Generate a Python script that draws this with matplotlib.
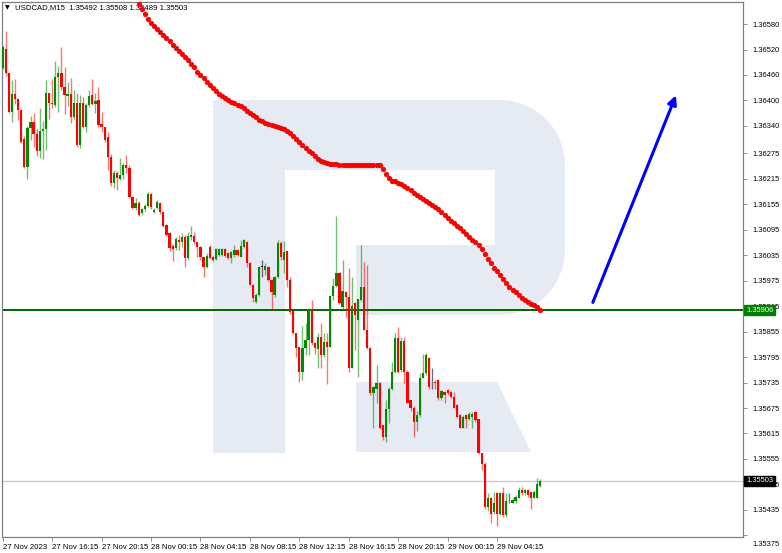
import matplotlib
matplotlib.use("Agg")
import matplotlib.pyplot as plt
from matplotlib.patches import Polygon, Rectangle
from matplotlib.transforms import ScaledTranslation
import numpy as np

# USDCAD M15 candles, 27 Nov 12:15 .. 29 Nov 07:45 (175 bars)
opens = [
    1.36476, 1.36521, 1.36465, 1.36373, 1.36415, 1.36403, 1.36377, 1.36309, 1.36243, 1.36335,
    1.36349, 1.36321, 1.36281, 1.36328, 1.36333, 1.36418, 1.36394, 1.36389, 1.36455, 1.36465,
    1.36432, 1.36410, 1.36415, 1.36361, 1.36394, 1.36295, 1.36394, 1.36337, 1.36389, 1.36413,
    1.36392, 1.36401, 1.36344, 1.36337, 1.36314, 1.36266, 1.36205, 1.36229, 1.36215, 1.36224,
    1.36248, 1.36241, 1.36172, 1.36146, 1.36158, 1.36134, 1.36144, 1.36151, 1.36179, 1.36137,
    1.36146, 1.36158, 1.36137, 1.36106, 1.36087, 1.36056, 1.36052, 1.36071, 1.36066, 1.36078,
    1.36028, 1.36078, 1.36080, 1.36066, 1.36054, 1.36030, 1.36007, 1.36054, 1.36030, 1.36026,
    1.36035, 1.36035, 1.36049, 1.36040, 1.36028, 1.36035, 1.36047, 1.36030, 1.36054, 1.36066,
    1.36016, 1.35964, 1.35924, 1.35941, 1.36007, 1.36000, 1.36007, 1.35976, 1.35941, 1.35983,
    1.36064, 1.36023, 1.36045, 1.35976, 1.35903, 1.35851, 1.35818, 1.35761, 1.35816, 1.35835,
    1.35908, 1.35828, 1.35813, 1.35842, 1.35799, 1.35830, 1.35820, 1.35938, 1.35962, 1.35993,
    1.35912, 1.35948, 1.35936, 1.35769, 1.35922, 1.35882, 1.35929, 1.35960, 1.35858, 1.35816,
    1.35710, 1.35721, 1.35733, 1.35634, 1.35606, 1.35672, 1.35719, 1.35759, 1.35839, 1.35764,
    1.35832, 1.35761, 1.35693, 1.35676, 1.35641, 1.35658, 1.35745, 1.35757, 1.35792, 1.35733,
    1.35736, 1.35740, 1.35698, 1.35712, 1.35717, 1.35712, 1.35702, 1.35681, 1.35658, 1.35629,
    1.35658, 1.35650, 1.35655, 1.35665, 1.35648, 1.35568, 1.35544, 1.35441, 1.35464, 1.35429,
    1.35474, 1.35426, 1.35474, 1.35422, 1.35455, 1.35452, 1.35457, 1.35464, 1.35481, 1.35474,
    1.35481, 1.35476, 1.35464, 1.35464, 1.35492,
]
highs = [
    1.36528, 1.36564, 1.36465, 1.36448, 1.36451, 1.36406, 1.36380, 1.36316, 1.36340, 1.36363,
    1.36370, 1.36333, 1.36382, 1.36351, 1.36448, 1.36418, 1.36451, 1.36493, 1.36481, 1.36526,
    1.36479, 1.36443, 1.36453, 1.36425, 1.36418, 1.36413, 1.36408, 1.36394, 1.36425, 1.36451,
    1.36418, 1.36432, 1.36373, 1.36337, 1.36325, 1.36274, 1.36236, 1.36233, 1.36264, 1.36252,
    1.36271, 1.36248, 1.36174, 1.36170, 1.36163, 1.36146, 1.36156, 1.36184, 1.36182, 1.36146,
    1.36165, 1.36160, 1.36139, 1.36108, 1.36090, 1.36061, 1.36078, 1.36082, 1.36087, 1.36082,
    1.36090, 1.36104, 1.36090, 1.36066, 1.36056, 1.36030, 1.36040, 1.36059, 1.36033, 1.36052,
    1.36052, 1.36052, 1.36052, 1.36042, 1.36045, 1.36059, 1.36049, 1.36071, 1.36073, 1.36068,
    1.36019, 1.35967, 1.35946, 1.36009, 1.36023, 1.36016, 1.36009, 1.35979, 1.35986, 1.36071,
    1.36068, 1.36068, 1.36045, 1.35983, 1.35905, 1.35853, 1.35820, 1.35868, 1.35875, 1.35910,
    1.35929, 1.35830, 1.35851, 1.35875, 1.35851, 1.35851, 1.35941, 1.35981, 1.36127, 1.35995,
    1.36023, 1.35950, 1.36005, 1.35983, 1.35924, 1.35931, 1.36059, 1.36019, 1.36012, 1.35818,
    1.35726, 1.35776, 1.35736, 1.35636, 1.35693, 1.35724, 1.35783, 1.35851, 1.35865, 1.35842,
    1.35842, 1.35764, 1.35695, 1.35679, 1.35669, 1.35757, 1.35802, 1.35804, 1.35795, 1.35769,
    1.35740, 1.35743, 1.35717, 1.35714, 1.35721, 1.35714, 1.35712, 1.35684, 1.35660, 1.35658,
    1.35660, 1.35665, 1.35665, 1.35667, 1.35650, 1.35570, 1.35547, 1.35474, 1.35466, 1.35476,
    1.35476, 1.35478, 1.35490, 1.35474, 1.35474, 1.35464, 1.35469, 1.35490, 1.35488, 1.35485,
    1.35483, 1.35478, 1.35481, 1.35509, 1.35508,
]
lows = [
    1.36474, 1.36458, 1.36370, 1.36349, 1.36392, 1.36354, 1.36300, 1.36241, 1.36215, 1.36307,
    1.36290, 1.36269, 1.36264, 1.36262, 1.36283, 1.36356, 1.36382, 1.36384, 1.36373, 1.36425,
    1.36368, 1.36387, 1.36347, 1.36354, 1.36290, 1.36288, 1.36335, 1.36325, 1.36384, 1.36389,
    1.36370, 1.36337, 1.36325, 1.36302, 1.36236, 1.36198, 1.36193, 1.36189, 1.36212, 1.36215,
    1.36229, 1.36170, 1.36144, 1.36141, 1.36127, 1.36130, 1.36139, 1.36148, 1.36144, 1.36134,
    1.36144, 1.36132, 1.36101, 1.36080, 1.36045, 1.36021, 1.36047, 1.36047, 1.36054, 1.36007,
    1.36023, 1.36071, 1.36061, 1.36030, 1.36023, 1.35983, 1.36005, 1.36026, 1.36021, 1.36023,
    1.36033, 1.36033, 1.36030, 1.36026, 1.36016, 1.36030, 1.36033, 1.36030, 1.36052, 1.36007,
    1.35964, 1.35924, 1.35922, 1.35938, 1.35983, 1.35988, 1.35974, 1.35905, 1.35936, 1.35981,
    1.36023, 1.35993, 1.35960, 1.35896, 1.35849, 1.35795, 1.35736, 1.35740, 1.35799, 1.35799,
    1.35823, 1.35802, 1.35769, 1.35769, 1.35795, 1.35731, 1.35818, 1.35929, 1.35960, 1.35920,
    1.35905, 1.35889, 1.35759, 1.35769, 1.35811, 1.35747, 1.35927, 1.35858, 1.35813, 1.35705,
    1.35629, 1.35688, 1.35625, 1.35599, 1.35594, 1.35639, 1.35717, 1.35757, 1.35757, 1.35759,
    1.35733, 1.35688, 1.35669, 1.35606, 1.35622, 1.35653, 1.35745, 1.35752, 1.35721, 1.35721,
    1.35721, 1.35693, 1.35693, 1.35686, 1.35705, 1.35698, 1.35674, 1.35653, 1.35627, 1.35627,
    1.35629, 1.35646, 1.35627, 1.35643, 1.35566, 1.35528, 1.35438, 1.35433, 1.35405, 1.35426,
    1.35398, 1.35422, 1.35417, 1.35417, 1.35450, 1.35450, 1.35452, 1.35462, 1.35469, 1.35471,
    1.35466, 1.35438, 1.35462, 1.35462, 1.35489,
]
closes = [
    1.36526, 1.36465, 1.36373, 1.36415, 1.36403, 1.36377, 1.36302, 1.36243, 1.36335, 1.36349,
    1.36321, 1.36281, 1.36328, 1.36333, 1.36418, 1.36394, 1.36392, 1.36455, 1.36465, 1.36432,
    1.36413, 1.36415, 1.36361, 1.36394, 1.36295, 1.36394, 1.36337, 1.36389, 1.36410, 1.36392,
    1.36399, 1.36342, 1.36337, 1.36307, 1.36266, 1.36205, 1.36229, 1.36217, 1.36224, 1.36248,
    1.36241, 1.36172, 1.36146, 1.36158, 1.36130, 1.36144, 1.36151, 1.36179, 1.36148, 1.36141,
    1.36160, 1.36137, 1.36104, 1.36082, 1.36052, 1.36049, 1.36073, 1.36066, 1.36078, 1.36028,
    1.36080, 1.36082, 1.36066, 1.36054, 1.36030, 1.36007, 1.36033, 1.36028, 1.36023, 1.36049,
    1.36049, 1.36049, 1.36033, 1.36028, 1.36042, 1.36047, 1.36035, 1.36056, 1.36071, 1.36016,
    1.35964, 1.35934, 1.35941, 1.36007, 1.36007, 1.36009, 1.35976, 1.35948, 1.35983, 1.36064,
    1.36030, 1.36042, 1.35976, 1.35901, 1.35851, 1.35816, 1.35759, 1.35816, 1.35835, 1.35908,
    1.35828, 1.35816, 1.35842, 1.35799, 1.35830, 1.35820, 1.35938, 1.35962, 1.35993, 1.35922,
    1.35950, 1.35936, 1.35769, 1.35915, 1.35894, 1.35931, 1.35960, 1.35858, 1.35816, 1.35710,
    1.35724, 1.35733, 1.35629, 1.35606, 1.35672, 1.35721, 1.35759, 1.35839, 1.35759, 1.35832,
    1.35759, 1.35688, 1.35674, 1.35641, 1.35658, 1.35745, 1.35757, 1.35799, 1.35724, 1.35733,
    1.35733, 1.35698, 1.35714, 1.35705, 1.35710, 1.35700, 1.35676, 1.35655, 1.35629, 1.35655,
    1.35650, 1.35662, 1.35662, 1.35646, 1.35568, 1.35544, 1.35441, 1.35464, 1.35426, 1.35450,
    1.35426, 1.35474, 1.35422, 1.35457, 1.35455, 1.35459, 1.35466, 1.35481, 1.35474, 1.35481,
    1.35469, 1.35464, 1.35476, 1.35495, 1.35503,
]

# red dotted indicator, one value per bar from bar 44 to the last bar
dots_start = 44
dots = [
    1.36628, 1.36616, 1.36604, 1.36592, 1.36583, 1.36576, 1.36569, 1.36561, 1.36554, 1.36546,
    1.36539, 1.36531, 1.36524, 1.36517, 1.36510, 1.36502, 1.36495, 1.36487, 1.36478, 1.36468,
    1.36459, 1.36452, 1.36444, 1.36437, 1.36430, 1.36422, 1.36415, 1.36410, 1.36405, 1.36401,
    1.36397, 1.36393, 1.36390, 1.36386, 1.36381, 1.36376, 1.36370, 1.36366, 1.36360, 1.36355,
    1.36351, 1.36347, 1.36344, 1.36341, 1.36340, 1.36338, 1.36336, 1.36332, 1.36327, 1.36323,
    1.36316, 1.36308, 1.36301, 1.36294, 1.36288, 1.36281, 1.36275, 1.36269, 1.36263, 1.36258,
    1.36256, 1.36253, 1.36250, 1.36249, 1.36249, 1.36248, 1.36248, 1.36248, 1.36248, 1.36248,
    1.36248, 1.36248, 1.36248, 1.36248, 1.36248, 1.36248, 1.36248, 1.36248, 1.36248, 1.36238,
    1.36226, 1.36216, 1.36211, 1.36209, 1.36206, 1.36203, 1.36198, 1.36193, 1.36188, 1.36182,
    1.36177, 1.36172, 1.36168, 1.36164, 1.36159, 1.36154, 1.36149, 1.36144, 1.36138, 1.36131,
    1.36123, 1.36116, 1.36111, 1.36105, 1.36099, 1.36092, 1.36086, 1.36079, 1.36072, 1.36066,
    1.36059, 1.36050, 1.36038, 1.36027, 1.36016, 1.36006, 1.35997, 1.35988, 1.35979, 1.35970,
    1.35961, 1.35954, 1.35948, 1.35941, 1.35935, 1.35930, 1.35925, 1.35920, 1.35917, 1.35913,
    1.35906,
]

level_price = 1.35906
last_price = 1.35503

price_ticks = [1.36580, 1.36520, 1.36460, 1.36400, 1.36340, 1.36275, 1.36215, 1.36155,
               1.36095, 1.36035, 1.35975, 1.35915, 1.35855, 1.35795, 1.35735, 1.35675,
               1.35615, 1.35555, 1.35495, 1.35435, 1.35375]
time_tick_bars = [0, 16, 32, 48, 64, 80, 96, 112, 128, 144, 160]
time_labels = ["27 Nov 2023", "27 Nov 16:15", "27 Nov 20:15", "28 Nov 00:15",
               "28 Nov 04:15", "28 Nov 08:15", "28 Nov 12:15", "28 Nov 16:15",
               "28 Nov 20:15", "29 Nov 00:15", "29 Nov 04:15"]

title = "USDCAD,M15  1.35492 1.35508 1.35489 1.35503"

# forecast arrow (bar index, price)
arrow_from = (191.0, 1.35924)
arrow_to = (217.9, 1.36412)

UP = "#008a00"
DOWN = "#ff0000"
FONT = ["Liberation Sans", "DejaVu Sans"]

fig = plt.figure(figsize=(7.82, 5.53), dpi=100)

# background watermark "R" drawn in pixel space
bg = fig.add_axes([0, 0, 1, 1])
bg.set_xlim(0, 782)
bg.set_ylim(553, 0)
bg.axis("off")
wm = "#e6eaf2"
bg.add_patch(Rectangle((213, 100), 72, 353, color=wm, lw=0))
a1 = np.linspace(-np.pi / 2, 0, 12)
a2 = np.linspace(0, np.pi / 2, 12)
bowl = [(285, 100), (500, 100)]
bowl += [(500 + 65 * np.cos(t), 165 + 65 * np.sin(t)) for t in a1]
bowl += [(500 + 65 * np.cos(t), 250 + 65 * np.sin(t)) for t in a2]
bowl += [(356, 315), (356, 245), (495, 245), (495, 170), (285, 170)]
bg.add_patch(Polygon(bowl, closed=True, color=wm, lw=0))
bg.add_patch(Polygon([(356, 382), (497, 382), (531, 452), (356, 452)],
                     closed=True, color=wm, lw=0))

ax = fig.add_axes([2 / 782, 16 / 553, 741 / 782, 535 / 553])
ax.set_facecolor("none")
ax.set_zorder(2)

o = np.array(opens)
h = np.array(highs)
l = np.array(lows)
c = np.array(closes)
x = np.arange(len(o))
cols = np.where(c > o, UP, np.where(c < o, DOWN, "#000000"))

ax.vlines(x, l, h, colors=cols, lw=1.0, alpha=0.55, zorder=3)
body = np.maximum(np.abs(c - o), 0.00002)
ax.bar(x, body, bottom=np.minimum(o, c), width=0.72, color=cols, lw=0, zorder=4)

ax.axhline(level_price, color="#006400", lw=1.4, zorder=2)
ax.axhline(last_price, color="#c8c8c8", lw=0.9, zorder=1)

dx = np.arange(dots_start, dots_start + len(dots))
ax.plot(dx, dots, "o", ms=3.4, color="#ff0000", mec="#e00000", mew=0.4, zorder=5)

ax.annotate("", xy=arrow_to, xytext=arrow_from,
            arrowprops=dict(arrowstyle="-|>", color="#0000ff", lw=2.2,
                            mutation_scale=13, shrinkA=0, shrinkB=0), zorder=6)

ax.set_xlim(-0.23, 239.6)
ax.set_ylim(1.35371, 1.36632)

ax.yaxis.tick_right()
ax.set_yticks(price_ticks)
ax.set_yticklabels([f"{p:.5f}" for p in price_ticks], family=FONT, fontsize=5.4)
ax.set_xticks(time_tick_bars)
ax.set_xticklabels(time_labels, family=FONT, fontsize=5.6, ha="left")
ax.tick_params(axis="y", length=3, width=0.6, color="#808080", pad=4)
ax.tick_params(axis="x", length=3, width=0.6, color="#808080", pad=2)
for s in ax.spines.values():
    s.set_color("#808080")
    s.set_linewidth(0.9)

# the lowest scale label sits just under the frame, as in the terminal
low_lbl = ax.get_yticklabels()[-1]
low_lbl.set_transform(low_lbl.get_transform()
                      + ScaledTranslation(0, -8 / 100, fig.dpi_scale_trans))

# price boxes on the right scale
ytr = ax.get_yaxis_transform()
ax.text(1.0 + 3 / 741, level_price, f"{level_price:.5f}", transform=ytr, ha="left",
        va="center", color="white", fontsize=5.4, family=FONT, zorder=10,
        bbox=dict(boxstyle="square,pad=0.25", fc="#008000", ec="#008000"))
ax.text(1.0 + 3 / 741, last_price, f"{last_price:.5f}", transform=ytr, ha="left",
        va="center", color="white", fontsize=5.4, family=FONT, zorder=10,
        bbox=dict(boxstyle="square,pad=0.25", fc="#000000", ec="#000000"))

ax.text(3 / 741, 1 - 6 / 535, "\u25bc", transform=ax.transAxes, ha="left", va="center",
        fontsize=4.5, family=["DejaVu Sans"], color="#000000")
ax.text(13 / 741, 1 - 6 / 535, title, transform=ax.transAxes, ha="left", va="center",
        fontsize=5.6, family=FONT, color="#000000")

fig.savefig("out.png", dpi=100)
